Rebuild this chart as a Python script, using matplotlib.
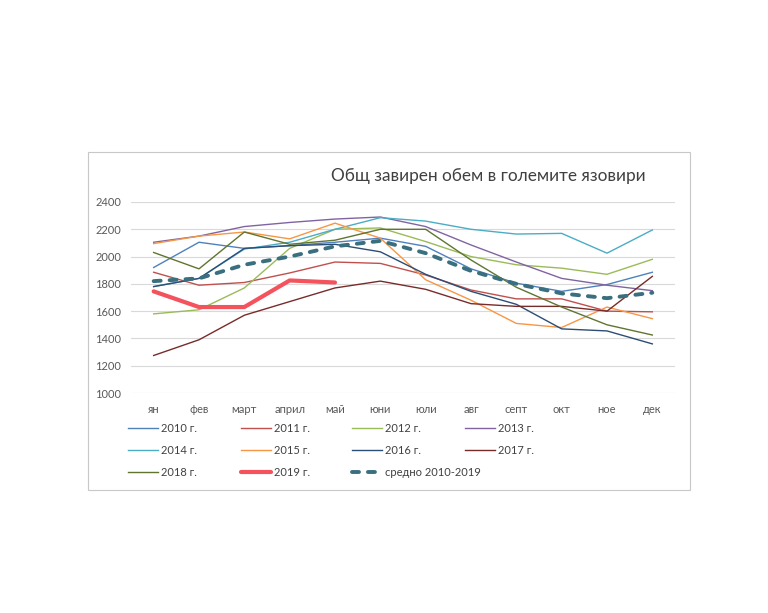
import matplotlib
matplotlib.use('Agg')
import matplotlib.pyplot as plt
from matplotlib.patches import Rectangle

plt.rcParams['font.family'] = ['Lato', 'DejaVu Sans']

months = ['ян', 'фев', 'март', 'април', 'май', 'юни',
          'юли', 'авг', 'септ', 'окт', 'ное', 'дек']

# total volume in the big dams
y2010 = [1920, 2105, 2060, 2080, 2105, 2135, 2075, 1910, 1805, 1745, 1795, 1885]
y2011 = [1885, 1790, 1810, 1880, 1960, 1950, 1865, 1755, 1690, 1690, 1600, 1595]
y2012 = [1580, 1610, 1770, 2060, 2200, 2210, 2110, 2000, 1940, 1915, 1870, 1980]
y2013 = [2105, 2150, 2220, 2250, 2275, 2290, 2220, 2085, 1960, 1840, 1790, 1750]
y2014 = [1780, 1840, 2055, 2105, 2200, 2285, 2260, 2200, 2165, 2170, 2025, 2195]
y2015 = [2095, 2150, 2180, 2130, 2245, 2135, 1830, 1680, 1510, 1480, 1630, 1545]
y2016 = [1780, 1840, 2060, 2080, 2090, 2035, 1870, 1745, 1650, 1470, 1455, 1360]
y2017 = [1275, 1390, 1570, 1670, 1770, 1820, 1760, 1655, 1635, 1635, 1600, 1855]
y2018 = [2030, 1910, 2180, 2090, 2120, 2200, 2200, 1975, 1775, 1630, 1500, 1425]
y2019 = [1745, 1630, 1630, 1825, 1810]
avg = [1820, 1840, 1940, 2000, 2075, 2115, 2025, 1895, 1800, 1730, 1695, 1735]

series = [
    ('2010 г.', y2010, '#4F81BD'),
    ('2011 г.', y2011, '#C0504D'),
    ('2012 г.', y2012, '#9BBB59'),
    ('2013 г.', y2013, '#8064A2'),
    ('2014 г.', y2014, '#4BACC6'),
    ('2015 г.', y2015, '#F79646'),
    ('2016 г.', y2016, '#2C4D75'),
    ('2017 г.', y2017, '#772C2A'),
    ('2018 г.', y2018, '#5F7530'),
]

W, H = 768, 613
fig = plt.figure(figsize=(W / 100, H / 100), dpi=100)
fig.patch.set_facecolor('white')

# chart frame
fig.patches.append(Rectangle((88 / W, 1 - 490 / H), (690 - 88) / W, (490 - 152) / H,
                             transform=fig.transFigure, fill=False,
                             edgecolor='#C8C8C8', linewidth=0.8))

ax = fig.add_axes([131 / W, 1 - 393 / H, (675 - 131) / W, (393 - 202) / H])
x = list(range(len(months)))

handles = {}
for label, vals, color in series:
    h, = ax.plot(x[:len(vals)], vals, color=color, linewidth=1.0, label=label)
    handles[label] = h

h, = ax.plot(x[:len(y2019)], y2019, color='#F4525C', linewidth=3.0,
             solid_capstyle='round', label='2019 г.')
handles['2019 г.'] = h
h, = ax.plot(x, avg, color='#3A6F80', linewidth=2.8, linestyle=(0, (1.8, 2.3)),
             dash_capstyle='round', label='средно 2010-2019')
handles['средно 2010-2019'] = h

ax.set_xlim(-0.5, 11.5)
ax.set_ylim(1000, 2400)
ax.set_yticks(range(1000, 2401, 200))
ax.set_xticks(x)
ax.set_xticklabels(months)
ax.grid(axis='y', color='#D9D9D9', linewidth=0.8)
ax.set_axisbelow(True)
for s in ax.spines.values():
    s.set_visible(False)
ax.tick_params(axis='x', length=0, pad=8, labelsize=8, labelcolor='#595959')
ax.tick_params(axis='y', length=0, pad=7, labelsize=8, labelcolor='#595959')

fig.text(488 / W, 1 - 176 / H, 'Общ завирен обем в големите язовири',
         ha='center', va='center', fontsize=12.4, color='#404040')

# legend: four columns laid out like the Excel legend
columns = [
    ['2010 г.', '2014 г.', '2018 г.'],
    ['2011 г.', '2015 г.', '2019 г.'],
    ['2012 г.', '2016 г.', 'средно 2010-2019'],
    ['2013 г.', '2017 г.'],
]
col_x = [128, 241, 352, 465]
for cx, labels in zip(col_x, columns):
    leg = fig.legend([handles[l] for l in labels], labels, loc='upper left',
                     bbox_to_anchor=(cx / W, 1 - 423 / H), frameon=False,
                     fontsize=8, handlelength=2.7, handletextpad=0.3,
                     labelspacing=0.99, borderpad=0, borderaxespad=0)
    for t in leg.get_texts():
        t.set_color('#404040')

fig.savefig('out.png', dpi=100, facecolor='white')
plt.close(fig)
